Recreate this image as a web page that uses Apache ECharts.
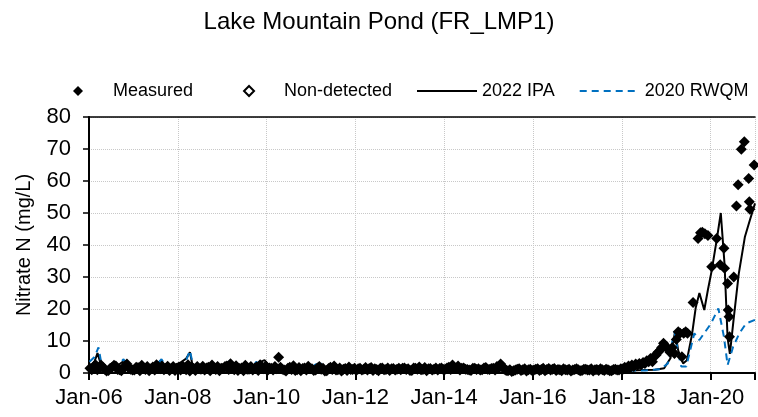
<!DOCTYPE html>
<html>
<head>
<meta charset="utf-8">
<script src="https://cdn.jsdelivr.net/npm/echarts@6/dist/echarts.min.js"></script>
<style>
  html, body { margin: 0; padding: 0; background: #fff; }
  #chart { width: 758px; height: 417px; }
</style>
</head>
<body>
<div id="chart"></div>
<script>
// Nitrate N at Lake Mountain Pond, measured vs. model runs
var chartTitle = 'Lake Mountain Pond (FR_LMP1)';
var yTicks = [0, 10, 20, 30, 40, 50, 60, 70, 80];

// measured values 2006-2017, two samples a month (early / late in the month)
var measuredFirstYear = 2006;
var measuredEarlyMonth = [
  [1.5, 2.0, 1.0, 2.5, 1.2, 0.8, 1.8, 2.2, 1.0, 1.5, 2.8, 1.2],
  [0.9, 1.6, 2.4, 1.1, 0.7, 1.9, 2.6, 1.3, 1.0, 2.1, 1.4, 0.8],
  [1.7, 2.3, 1.0, 0.6, 1.5, 2.0, 1.2, 0.9, 1.8, 2.5, 1.1, 0.7],
  [1.4, 2.2, 2.9, 1.0, 0.8, 1.6, 2.4, 1.2, 0.9, 1.9, 2.6, 1.3],
  [0.8, 1.5, 2.0, 4.9, 1.2, 0.6, 1.8, 2.3, 1.0, 0.7, 1.6, 2.1],
  [1.3, 0.9, 2.0, 1.5, 0.7, 1.8, 2.2, 1.0, 0.6, 1.4, 1.9, 1.1],
  [0.8, 1.5, 1.2, 0.9, 1.7, 1.3, 0.7, 1.6, 1.1, 0.8, 1.4, 1.2],
  [1.0, 1.6, 1.3, 0.8, 1.5, 1.9, 1.1, 0.7, 1.4, 1.2, 0.9, 1.6],
  [1.2, 1.8, 2.5, 1.4, 0.9, 1.6, 1.1, 0.8, 1.5, 1.3, 1.0, 1.7],
  [1.1, 1.5, 2.0, 2.8, 1.2, 0.7, 0.5, 0.9, 1.3, 1.0, 0.6, 1.2],
  [0.9, 1.3, 1.1, 0.7, 1.4, 1.2, 0.8, 1.0, 1.3, 0.9, 0.6, 1.1],
  [1.0, 0.8, 1.2, 0.9, 0.6, 1.1, 1.3, 0.8, 1.0, 0.7, 1.2, 0.9]
];
var measuredLateMonth = [
  [1.0, 2.6, 1.4, 1.8, 0.6, 1.5, 2.4, 1.1, 0.7, 2.2, 1.6, 0.9],
  [1.8, 0.7, 1.5, 2.0, 1.3, 0.9, 1.7, 2.2, 1.4, 0.8, 2.0, 1.5],
  [0.9, 1.4, 2.6, 1.7, 0.8, 1.3, 2.1, 1.6, 0.7, 1.4, 2.0, 1.5],
  [2.0, 1.1, 1.6, 2.3, 1.4, 0.7, 1.2, 2.0, 1.5, 0.8, 1.6, 2.2],
  [1.6, 0.9, 1.3, 1.8, 0.9, 1.5, 1.1, 0.8, 1.7, 1.4, 0.9, 1.3],
  [0.8, 1.6, 1.2, 0.6, 1.4, 1.1, 0.9, 1.6, 1.2, 0.8, 1.1, 1.5],
  [1.3, 0.9, 1.7, 1.4, 0.8, 1.1, 1.5, 1.0, 1.6, 1.3, 0.9, 1.5],
  [1.5, 1.1, 0.8, 1.6, 1.2, 1.0, 1.7, 1.3, 0.9, 1.6, 1.4, 1.1],
  [1.6, 1.1, 1.4, 2.2, 1.5, 1.2, 0.9, 1.5, 1.1, 0.9, 1.6, 1.2],
  [1.4, 0.9, 1.6, 2.0, 0.8, 1.0, 0.7, 1.2, 0.8, 1.3, 1.0, 0.8],
  [1.2, 0.8, 1.5, 1.1, 0.9, 1.4, 1.1, 0.7, 1.0, 1.2, 0.9, 1.3],
  [0.7, 1.2, 0.9, 1.3, 1.0, 0.8, 1.0, 1.2, 0.7, 1.1, 0.9, 1.3]
];

// measured values from 2018 on
var measuredRecent = [
  ['2018-01-10',1.2],['2018-01-25',1.8],['2018-02-10',1.5],['2018-02-25',2.2],['2018-03-10',1.6],
  ['2018-03-25',2.5],['2018-04-10',2.0],['2018-04-25',2.8],['2018-05-10',2.4],['2018-05-25',3.0],
  ['2018-06-10',2.6],['2018-06-25',3.3],['2018-07-10',3.0],['2018-07-25',3.8],['2018-08-10',3.5],
  ['2018-08-25',4.5],['2018-09-10',3.5],['2018-09-25',5.2],['2018-10-10',5.6],['2018-10-25',6.5],
  ['2018-11-10',7.0],['2018-11-25',8.0],['2018-12-10',9.3],['2018-12-25',8.5],['2019-01-15',7.5],
  ['2019-02-01',6.5],['2019-02-20',8.0],['2019-03-10',6.1],['2019-03-25',10.5],['2019-04-10',12.9],
  ['2019-04-25',12.4],['2019-05-10',5.1],['2019-05-25',12.4],['2019-06-10',12.9],['2019-06-25',12.4],
  ['2019-08-10',22.0],['2019-09-20',42.0],['2019-10-10',43.8],['2019-10-25',44.0],['2019-11-15',43.5],
  ['2019-12-10',43.0],['2020-01-10',33.2],['2020-02-20',42.0],['2020-03-20',33.8],['2020-04-20',39.0],
  ['2020-04-25',32.7],['2020-05-20',28.0],['2020-05-25',19.7],['2020-06-01',17.6],['2020-06-05',11.3],
  ['2020-07-10',30.0],['2020-08-01',52.2],['2020-08-15',58.8],['2020-09-10',69.9],['2020-10-05',72.3],
  ['2020-11-10',60.8],['2020-11-15',53.5],['2020-11-20',51.2],['2020-12-25',65.0]
];

var nonDetected = [];

var ipa2022 = [
  ['2006-01-05',1.5],['2006-02-10',3.0],['2006-03-12',6.2],['2006-04-10',2.5],['2006-06-01',1.5],
  ['2006-08-01',1.6],['2006-10-05',3.5],['2006-11-20',2.0],['2007-01-10',2.2],['2007-02-10',3.0],
  ['2007-03-20',1.5],['2007-06-01',2.0],['2007-08-15',3.8],['2007-09-20',2.0],['2007-11-20',2.2],
  ['2008-01-20',3.2],['2008-03-10',4.5],['2008-04-10',6.5],['2008-05-01',2.5],['2008-07-01',1.5],
  ['2008-09-15',1.3],['2008-11-15',2.0],['2009-01-20',2.8],['2009-03-10',3.6],['2009-04-10',1.5],
  ['2009-07-01',1.2],['2009-09-01',1.6],['2009-10-15',3.0],['2009-12-15',4.0],['2010-02-01',2.0],
  ['2010-05-01',1.4],['2010-08-01',1.2],['2010-11-01',1.6],['2011-01-15',2.0],['2011-03-10',3.0],
  ['2011-04-20',1.5],['2011-08-01',1.2],['2011-12-01',1.4],['2012-04-01',1.2],['2012-08-01',1.0],
  ['2012-12-01',1.3],['2013-04-01',1.5],['2013-08-01',1.2],['2013-12-01',1.3],['2014-04-01',2.0],
  ['2014-08-01',1.3],['2014-12-01',1.2],['2015-04-01',2.0],['2015-08-01',1.0],['2015-12-01',0.8],
  ['2016-04-01',1.0],['2016-08-01',1.1],['2016-12-01',1.0],['2017-04-01',1.0],['2017-08-01',0.9],
  ['2017-12-01',1.0],['2018-04-01',0.8],['2018-07-01',0.9],['2018-10-01',1.0],['2018-12-15',1.5],
  ['2019-02-05',4.6],['2019-03-15',13.0],['2019-04-10',7.0],['2019-05-20',3.0],['2019-06-20',4.0],
  ['2019-08-01',12.0],['2019-09-01',20.5],['2019-10-01',25.0],['2019-11-10',19.7],['2019-12-10',26.0],
  ['2020-01-10',32.0],['2020-02-20',41.5],['2020-03-25',50.0],['2020-04-25',34.0],['2020-05-20',11.0],
  ['2020-06-08',6.0],['2020-07-08',16.5],['2020-08-20',31.0],['2020-10-10',42.6],['2020-11-20',47.8],
  ['2021-01-01',53.0]
];

var rwqm2020 = [
  ['2006-01-05',3.5],['2006-02-15',5.0],['2006-03-20',8.0],['2006-04-15',2.5],['2006-06-15',1.5],
  ['2006-08-15',1.5],['2006-10-10',4.3],['2006-11-20',2.5],['2007-01-10',2.0],['2007-02-10',3.5],
  ['2007-03-20',1.5],['2007-05-20',1.5],['2007-07-10',2.5],['2007-08-20',4.3],['2007-09-25',2.0],
  ['2007-11-20',1.5],['2008-01-20',2.5],['2008-03-10',4.0],['2008-04-10',7.0],['2008-05-05',2.5],
  ['2008-07-10',1.5],['2008-09-15',1.2],['2008-11-15',2.0],['2009-01-20',2.5],['2009-03-10',3.9],
  ['2009-04-10',1.5],['2009-06-15',1.2],['2009-08-15',1.5],['2009-10-10',3.5],['2009-11-15',1.5],
  ['2010-01-15',1.2],['2010-04-15',1.5],['2010-08-15',1.2],['2010-11-15',1.5],['2011-01-15',2.0],
  ['2011-03-10',3.5],['2011-04-20',1.5],['2011-08-15',1.2],['2011-12-15',1.2],['2012-04-15',1.1],
  ['2012-08-15',1.0],['2012-12-15',1.2],['2013-04-15',1.4],['2013-08-15',1.1],['2013-12-15',1.2],
  ['2014-04-15',1.8],['2014-08-15',1.2],['2014-12-15',1.1],['2015-04-15',1.6],['2015-08-15',0.9],
  ['2015-12-15',0.8],['2016-04-15',0.9],['2016-08-15',1.0],['2016-12-15',0.9],['2017-04-15',0.9],
  ['2017-08-15',0.8],['2017-12-15',1.5],['2018-03-15',0.8],['2018-07-15',0.8],['2018-11-15',1.2],
  ['2019-01-15',3.0],['2019-03-10',13.0],['2019-04-10',6.2],['2019-05-05',2.0],['2019-06-15',2.0],
  ['2019-08-20',12.4],['2019-10-01',10.3],['2020-01-05',15.5],['2020-03-05',20.2],['2020-04-20',11.3],
  ['2020-05-20',2.5],['2020-07-05',8.2],['2020-08-25',12.4],['2020-10-20',15.5],['2021-01-01',16.6]
];

// date string -> decimal year for the value x axis
function toYear(s){
  var p = s.split('-');
  var y = +p[0];
  var t0 = Date.UTC(y, 0, 1), t1 = Date.UTC(y + 1, 0, 1);
  var t = Date.UTC(y, +p[1] - 1, +p[2]);
  return y + (t - t0) / (t1 - t0);
}
function toPoints(list){
  return list.map(function(d){ return [toYear(d[0]), d[1]]; });
}

var measuredPoints = [];
measuredEarlyMonth.forEach(function(row, i){
  row.forEach(function(v, m){
    measuredPoints.push([measuredFirstYear + i + (m + 0.25) / 12, v]);
    measuredPoints.push([measuredFirstYear + i + (m + 0.75) / 12, measuredLateMonth[i][m]]);
  });
});
measuredPoints = measuredPoints.concat(toPoints(measuredRecent));

var chart = echarts.init(document.getElementById('chart'));
var font = 'Arial, "Liberation Sans", sans-serif';
var option = {
  animation: false,
  textStyle: { fontFamily: font, color: '#000' },
  title: {
    text: chartTitle,
    left: 'center',
    top: 5,
    textStyle: { fontSize: 24, fontWeight: 'normal', color: '#000', fontFamily: font }
  },
  legend: [
    {
      data: ['Measured', 'Non-detected'],
      left: 73, top: 82, padding: 0,
      itemWidth: 10, itemHeight: 10, itemGap: 50,
      textStyle: { fontSize: 18, color: '#000', padding: [0, 0, 0, 25] }
    },
    {
      data: ['2022 IPA', '2020 RWQM'],
      left: 416, top: 82, padding: 0,
      itemWidth: 60, itemHeight: 10, itemGap: 24,
      itemStyle: { opacity: 0 },
      textStyle: { fontSize: 18, color: '#000' }
    }
  ],
  grid: { left: 89, right: 1, top: 117, bottom: 44, containLabel: false },
  xAxis: [
    {
      type: 'value',
      min: 2006, max: 2021, interval: 2,
      axisLine: { lineStyle: { color: '#000', width: 2 } },
      axisTick: { show: true, length: 7, lineStyle: { color: '#000', width: 2 } },
      axisLabel: {
        fontSize: 22, color: '#000', margin: 14,
        formatter: function(v){ return v < 2021 ? 'Jan-' + String(v).slice(2) : ''; }
      },
      splitLine: { show: true, lineStyle: { color: '#c8c8c8', type: 'dotted', width: 1 } }
    },
    {
      type: 'value', position: 'top',
      min: 2006, max: 2021,
      axisLine: { show: true, onZero: false, lineStyle: { color: '#000', width: 1.5 } },
      axisTick: { show: false }, axisLabel: { show: false }, splitLine: { show: false }
    }
  ],
  yAxis: {
    type: 'value',
    min: yTicks[0], max: yTicks[yTicks.length - 1], interval: 10,
    name: 'Nitrate N (mg/L)',
    nameLocation: 'middle', nameGap: 55,
    nameTextStyle: { fontSize: 20, color: '#000' },
    axisLine: { show: true, lineStyle: { color: '#000', width: 2 } },
    axisTick: { show: true, length: 6, lineStyle: { color: '#000', width: 1.5 } },
    axisLabel: { fontSize: 22, color: '#000', margin: 18 },
    splitLine: { show: true, lineStyle: { color: '#c8c8c8', type: 'dotted', width: 1 } }
  },
  series: [
    {
      name: '2022 IPA', type: 'line',
      data: toPoints(ipa2022),
      symbol: 'none', showSymbol: false,
      lineStyle: { color: '#000', width: 2 },
      itemStyle: { color: '#000' },
      z: 2
    },
    {
      name: '2020 RWQM', type: 'line',
      data: toPoints(rwqm2020),
      symbol: 'none', showSymbol: false,
      lineStyle: { color: '#0070C0', width: 2, type: [7, 5] },
      itemStyle: { color: '#0070C0' },
      z: 3
    },
    {
      name: 'Measured', type: 'scatter',
      data: measuredPoints,
      symbol: 'diamond', symbolSize: 11,
      itemStyle: { color: '#000', opacity: 1 },
      z: 4
    },
    {
      name: 'Non-detected', type: 'scatter',
      data: nonDetected,
      symbol: 'diamond', symbolSize: 10,
      itemStyle: { color: '#fff', borderColor: '#000', borderWidth: 1.5, opacity: 1 },
      z: 5
    }
  ]
};
chart.setOption(option);
</script>
</body>
</html>
